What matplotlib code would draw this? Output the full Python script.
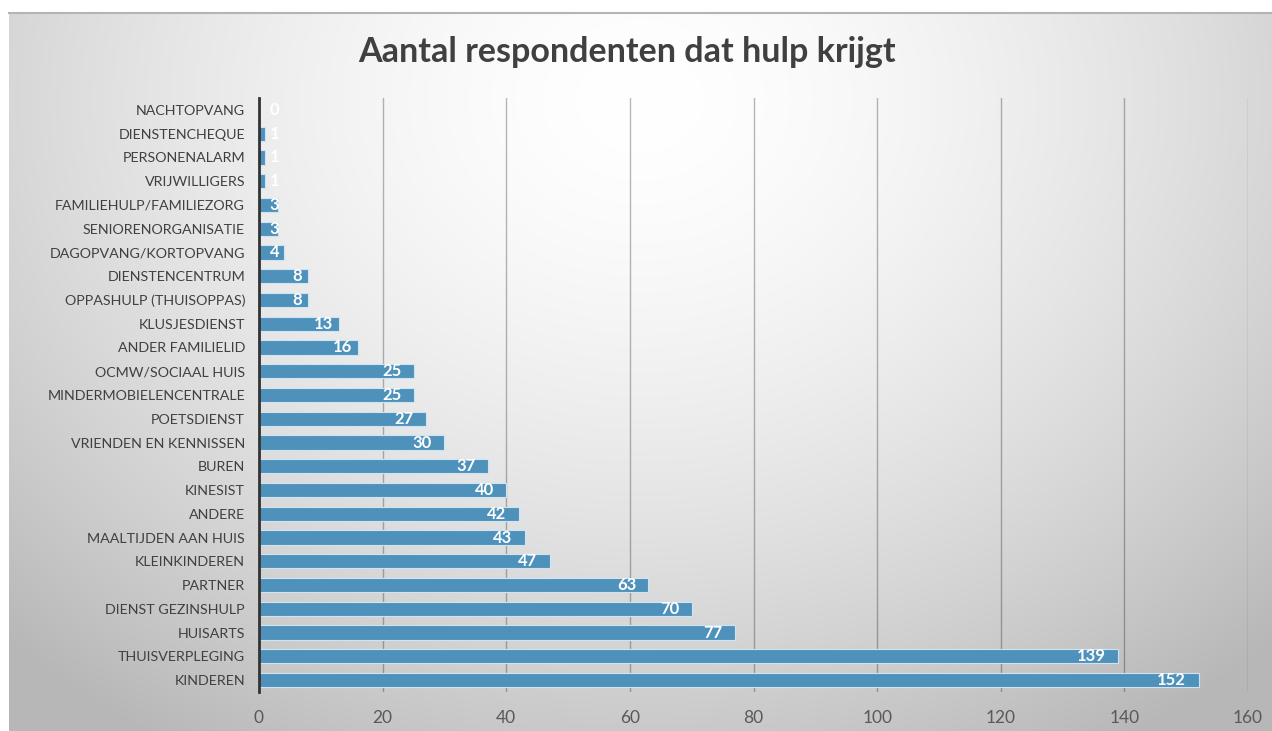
import numpy as np
import matplotlib
matplotlib.use("Agg")
import matplotlib.pyplot as plt

categories = [
    "KINDEREN", "THUISVERPLEGING", "HUISARTS", "DIENST GEZINSHULP", "PARTNER",
    "KLEINKINDEREN", "MAALTIJDEN AAN HUIS", "ANDERE", "KINESIST", "BUREN",
    "VRIENDEN EN KENNISSEN", "POETSDIENST", "MINDERMOBIELENCENTRALE",
    "OCMW/SOCIAAL HUIS", "ANDER FAMILIELID", "KLUSJESDIENST",
    "OPPASHULP (THUISOPPAS)", "DIENSTENCENTRUM", "DAGOPVANG/KORTOPVANG",
    "SENIORENORGANISATIE", "FAMILIEHULP/FAMILIEZORG", "VRIJWILLIGERS",
    "PERSONENALARM", "DIENSTENCHEQUE", "NACHTOPVANG",
]
values = [152, 139, 77, 70, 63, 47, 43, 42, 40, 37, 30, 27, 25, 25, 16, 13,
          8, 8, 4, 3, 3, 1, 1, 1, 0]
xticks = [0, 20, 40, 60, 80, 100, 120, 140, 160]

FONT = ["Lato", "DejaVu Sans"]
plt.rcParams["font.family"] = FONT

W, H = 1272, 731
fig = plt.figure(figsize=(W / 100, H / 100), dpi=100)
fig.patch.set_facecolor("white")

# chart area background: radial grey gradient, lightest near the top centre
bg = fig.add_axes([9 / W, 0, 1 - 9 / W, 1 - 13 / H])
bg.set_axis_off()
gx, gy = np.meshgrid(np.linspace(0, 1, 400), np.linspace(0, 1, 240))
r = np.sqrt(((gx - 0.5) / 0.75) ** 2 + ((gy - 0.12) / 1.1) ** 2)
shade = np.clip(1.0 - 0.30 * r ** 1.6, 0.72, 1.0)
bg.imshow(np.dstack([shade] * 3), aspect="auto", extent=[0, 1, 1, 0])
bg.set_xlim(0, 1)
bg.set_ylim(1, 0)
fig.add_artist(plt.Line2D([9 / W, 1], [1 - 13 / H] * 2, color="#b4b4b4", lw=1.5))

ax = fig.add_axes([259 / W, 39 / H, (1248 - 259) / W, (692 - 98) / H])
ax.patch.set_alpha(0)
y = np.arange(len(categories))
ax.barh(y, values, height=0.6, color="#4e91bb", edgecolor="#cfe4f2", linewidth=0.8, zorder=3)
ax.set_xlim(0, 160)
ax.set_ylim(-0.5, len(categories) - 0.5)
ax.set_xticks(xticks)
ax.set_yticks(y)
ax.set_yticklabels(categories)
ax.tick_params(axis="y", length=0, pad=10, labelsize=10.3, labelcolor="#404040")
ax.tick_params(axis="x", length=0, pad=13, labelsize=12.5, labelcolor="#595959")
ax.grid(axis="x", color="black", alpha=0.28, lw=1, zorder=1)
for s in ["top", "right", "bottom"]:
    ax.spines[s].set_visible(False)
ax.spines["left"].set_color("#333333")
ax.spines["left"].set_linewidth(2)
ax.spines["left"].set_zorder(4)

# Excel-style "inside end" labels; tiny bars get the label just past the axis
for yi, v in zip(y, values):
    pad = 2.0 if v >= 20 else 1.0
    ax.text(max(v - pad, 3.3), yi, str(v), ha="right", va="center", color="white",
            fontsize=12, fontweight="bold", zorder=5)

fig.text(627 / W, 1 - 52 / H, "Aantal respondenten dat hulp krijgt", ha="center",
         va="center", fontsize=24.5, fontweight="bold", color="#404040")

fig.savefig("out.png", dpi=100)
